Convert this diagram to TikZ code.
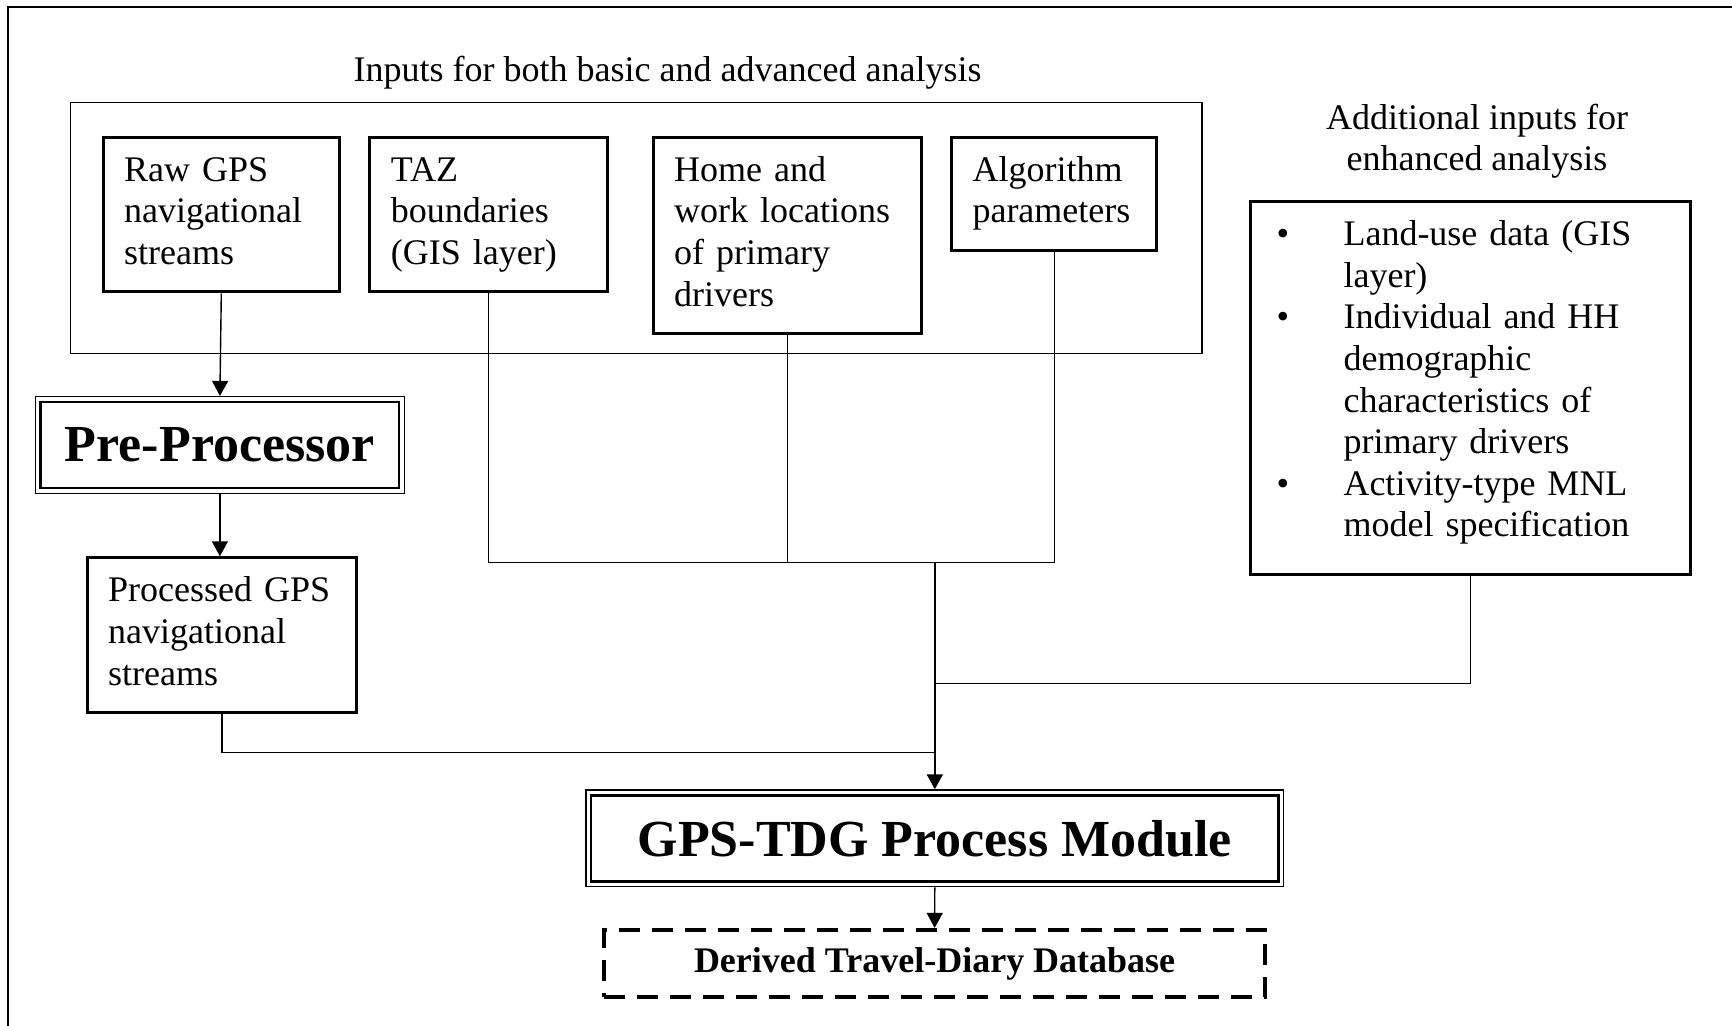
\documentclass[tikz,border=0pt]{standalone}
\usepackage{fontspec}
\setmainfont{Liberation Serif}
\usetikzlibrary{arrows.meta}
\newcommand{\txt}{\fontsize{18pt}{20.8pt}\selectfont}
\tikzset{
  inbox/.style={draw, line width=1.5pt, anchor=north west, align=left,
    inner xsep=10.5pt, inner ysep=7.5pt, font=\txt},
  modbox/.style={draw, line width=0.75pt, inner sep=0pt},
}

\begin{document}
\begin{tikzpicture}[x=0.5pt,y=-0.5pt,line width=0.7pt,
    >={Triangle[length=7.5pt,width=8pt]}]
   \useasboundingbox (0,0) rectangle (1732,1026);
   \draw[line width=1pt] (1732,7.5) -- (8,7.5) -- (8,1026);
   % basic inputs
   \node (basicttl) at (353,81.7) [anchor=base west, inner sep=0pt, font=\txt]
    {Inputs for both basic and advanced analysis};
   \draw (70.7,102.3) rectangle (1201.8,353.3);
   \node (raw)  at (101.6,135.7) [inbox, text width=97.2pt]
    {\strut Raw GPS\\navigational\\streams\strut};
   \node (taz)  at (368.4,135.7) [inbox, text width=97.8pt]
    {\strut TAZ\\boundaries\\(GIS layer)\strut};
   \node (home) at (651.7,135.7) [inbox, text width=113pt]
    {\strut Home and\\work locations\\of primary\\drivers\strut};
   \node (alg)  at (950,135.7)   [inbox, text width=81.7pt]
    {\strut Algorithm\\parameters\strut};
   % enhanced inputs
   \node (addttl) at (1477,99.2) [anchor=north, align=center, inner sep=0pt, font=\txt]
    {\strut Additional inputs for\\enhanced analysis};
   \node (extra) at (1249,200) [inbox, inner xsep=13pt, text width=194pt, text depth=157pt]
    {\begin{tabular}[t]{@{}p{33.5pt}@{}l@{}}
     \textbullet & Land-use data (GIS\\
                 & layer)\\
     \textbullet & Individual and HH\\
                 & demographic\\
                 & characteristics of\\
                 & primary drivers\\
     \textbullet & Activity-type MNL\\
                 & model specification
     \end{tabular}};
   % processing chain
   \node (pre) at (219.9,445) [modbox, minimum width=184.5pt, minimum height=48.3pt,
    font=\bfseries\fontsize{26pt}{30pt}\selectfont] {Pre-Processor};
   \draw[line width=1.25pt] ([shift={(3pt,-3pt)}]pre.north west)
    rectangle ([shift={(-3pt,3pt)}]pre.south east);
   \node (proc) at (85.6,556.3) [inbox, text width=113.7pt]
    {\strut Processed GPS\\navigational\\streams\strut};
   \node (mod) at (934.8,838.3) [modbox, minimum width=348.9pt, minimum height=48.3pt,
    font=\bfseries\fontsize{26pt}{30pt}\selectfont] {GPS-TDG Process Module};
   \draw[line width=1.25pt] ([shift={(3pt,-3pt)}]mod.north west)
    rectangle ([shift={(-3pt,3pt)}]mod.south east);
   \node (db) at (934.6,963.6) [draw, line width=2pt, dash pattern=on 10.5pt off 6pt,
    minimum width=330.4pt, minimum height=33.7pt,
    font=\bfseries\fontsize{18pt}{21pt}\selectfont] {Derived Travel-Diary Database};
   % connectors
   \coordinate (bus)      at (934.8,562.5);
   \coordinate (addjoin)  at (934.8,683.3);
   \coordinate (procjoin) at (934.8,752.6);
   \draw[->] (raw.south) -- (pre.north);
   \draw[->] (pre.south) -- (pre.south |- proc.north);
   \draw (taz.south)   |- (bus);
   \draw (home.south)  |- (bus);
   \draw (alg.south)   |- (bus);
   \draw (extra.south) |- (addjoin);
   \draw (proc.south)  |- (procjoin);
   \draw[->, line width=1pt] (bus) -- (mod.north);
   \draw[->] (mod.south) -- (db.north);
\end{tikzpicture}
\end{document}
